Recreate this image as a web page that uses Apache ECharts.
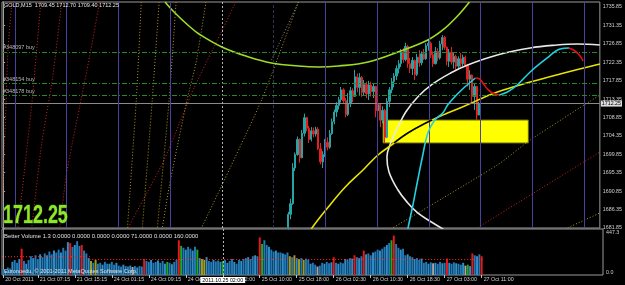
<!DOCTYPE html>
<html>
<head>
<meta charset="utf-8">
<script src="https://cdn.jsdelivr.net/npm/echarts@6/dist/echarts.min.js"></script>
<style>
html, body { margin: 0; padding: 0; background: #000; }
#chart { width: 625px; height: 285px; }
</style>
</head>
<body>
<div id="chart"></div>
<script>
var barCount = 260;
var tickIndex = [0, 15, 31, 47, 63, 79, 95, 111, 127, 143, 159, 175, 191, 207];
var tickText = ['20 Oct 2011', '21 Oct 07:15', '21 Oct 15:15', '24 Oct 01:15', '24 Oct 09:15', '24 Oct 17:15',
	'25 Oct 02:00', '25 Oct 10:00', '25 Oct 18:00', '26 Oct 02:30', '26 Oct 10:30', '26 Oct 18:30', '27 Oct 03:00', '27 Oct 11:00'];
var priceMin = 1681.85, priceMax = 1737.07, priceStep = 4.5;
var volMax = 447.3;
var header = 'GOLD,M15  1709.45 1712.70 1709.40 1712.25';
var volHeader = 'Better Volume 1.3 0.0000 0.0000 0.0000 0.0000 71.0000 0.0000 160.0000';
var copyright = 'Euronoedu, \u00a9 2001-2011 MetaQuotes Software Corp.';
var bidPrice = 1712.25;
var crossIdx = 95;
var crossText = '2011.10.25 02:00';

// candles: [open, close, low, high], first one at bar candleStart
var candleStart = 124;
var candles = [
	[1682.0,1685.2,1681.5,1685.8],[1685.2,1687.8,1684.0,1689.0],[1687.8,1696.5,1687.5,1697.7],[1696.5,1699.8,1695.8,1700.3],
	[1699.8,1703.5,1699.5,1704.2],[1703.5,1699.0,1697.8,1703.8],[1699.0,1705.0,1698.9,1705.8],[1705.0,1708.8,1704.2,1709.8],
	[1708.8,1706.2,1705.5,1709.0],[1706.2,1703.5,1702.6,1706.8],[1703.5,1705.6,1703.0,1706.5],[1705.6,1704.8,1704.0,1706.4],
	[1704.8,1706.0,1704.2,1706.6],[1706.0,1701.2,1700.9,1706.5],[1701.2,1698.0,1697.4,1702.6],[1698.0,1699.8,1696.5,1700.6],
	[1699.8,1702.8,1699.2,1703.6],[1702.8,1701.6,1700.8,1704.0],[1701.6,1704.9,1701.2,1705.8],[1704.9,1707.8,1704.6,1708.6],
	[1707.8,1710.2,1707.2,1710.8],[1710.2,1711.8,1709.0,1712.6],[1711.8,1713.2,1710.8,1713.9],[1713.2,1715.6,1712.5,1716.3],
	[1715.6,1713.0,1712.4,1716.0],[1713.0,1709.6,1708.9,1713.6],[1709.6,1712.2,1709.2,1714.8],[1712.2,1715.4,1711.4,1716.3],
	[1715.4,1714.0,1712.6,1716.0],[1714.0,1718.8,1713.9,1720.5],[1718.8,1716.2,1715.0,1719.6],[1716.2,1718.6,1714.2,1719.7],
	[1718.6,1715.0,1713.9,1719.0],[1715.0,1716.9,1714.2,1718.0],[1716.9,1714.6,1713.6,1717.6],[1714.6,1716.8,1713.1,1717.8],
	[1716.8,1715.2,1714.0,1717.6],[1715.2,1716.4,1713.6,1717.2],[1716.4,1710.5,1708.9,1716.6],[1710.5,1712.0,1709.2,1712.4],
	[1712.0,1708.2,1706.5,1712.2],[1708.2,1710.6,1707.4,1711.6],[1710.6,1704.0,1702.6,1711.0],[1704.0,1712.8,1703.8,1713.6],
	[1712.8,1715.6,1711.4,1716.3],[1715.6,1717.6,1714.8,1718.5],[1717.6,1719.0,1716.2,1719.7],[1719.0,1720.8,1718.0,1721.6],
	[1720.8,1722.0,1719.6,1722.9],[1722.0,1724.8,1721.2,1725.6],[1724.8,1723.0,1722.2,1725.8],[1723.0,1726.2,1722.6,1727.1],
	[1726.2,1722.0,1721.0,1726.6],[1722.0,1720.8,1719.7,1723.4],[1720.8,1722.8,1719.2,1723.6],[1722.8,1719.4,1718.0,1723.0],
	[1719.4,1723.6,1719.0,1724.4],[1723.6,1722.2,1721.2,1725.3],[1722.2,1724.4,1721.6,1725.0],[1724.4,1723.2,1722.9,1725.6],
	[1723.2,1726.4,1722.9,1727.0],[1726.4,1727.0,1725.2,1727.8],[1727.0,1724.2,1723.4,1727.4],[1724.2,1722.0,1721.2,1725.0],
	[1722.0,1725.0,1721.8,1726.1],[1725.0,1723.4,1722.6,1725.8],[1723.4,1726.8,1723.0,1727.6],[1726.8,1728.4,1725.3,1729.0],
	[1728.4,1726.0,1725.4,1728.8],[1726.0,1722.6,1721.6,1726.2],[1722.6,1724.8,1721.2,1725.6],[1724.8,1722.4,1721.8,1726.1],
	[1722.4,1723.8,1720.8,1724.6],[1723.8,1721.4,1720.5,1724.2],[1721.4,1723.2,1720.9,1723.8],[1723.2,1722.0,1721.2,1724.6],
	[1722.0,1723.6,1721.4,1724.2],[1723.6,1721.6,1721.2,1724.0],[1721.6,1718.2,1716.4,1721.8],[1718.2,1719.2,1715.6,1720.4],
	[1719.2,1714.0,1712.2,1719.4],[1714.0,1716.4,1710.7,1717.2],[1716.4,1709.4,1708.2,1716.6],[1709.45,1712.25,1709.4,1712.7]
];

var volume = [
	60, 50, 80, 70, 140, 160, 130, 170, 280, 150, 120, 160, 200, 180, 210, 170, 220, 190, 230, 210,
	250, 220, 260, 240, 270, 240, 290, 260, 350, 340, 300, 320, 360, 310, 320, 260, 230, 180, 150, 130,
	160, 120, 130, 110, 140, 120, 120, 140, 110, 130, 100, 90, 110, 95, 90, 100, 85, 95, 80, 95,
	90, 170, 150, 140, 160, 130, 140, 155, 130, 150, 120, 140, 130, 115, 140, 160, 370, 310, 290, 270,
	300, 280, 260, 300, 270, 180, 170, 160, 190, 150, 140, 160, 145, 155, 140, 150, 160, 130, 150, 170,
	140, 120, 160, 150, 170, 180, 190, 170, 200, 210, 200, 400, 330, 370, 320, 300, 270, 250, 260, 240,
	240, 230, 220, 240, 200, 190, 210, 180, 170, 180, 160, 175, 165, 120, 130, 110, 90, 100, 130, 120,
	140, 125, 135, 190, 130, 120, 135, 125, 170, 160, 180, 175, 210, 190, 180, 200, 260, 220, 230, 210,
	240, 250, 270, 260, 280, 300, 320, 340, 370, 420, 330, 290, 270, 280, 210, 220, 200, 190, 170, 180,
	160, 175, 130, 140, 120, 135, 125, 130, 120, 140, 125, 130, 175, 130, 120, 135, 125, 120, 110, 130,
	100, 110, 95, 230, 210, 200, 220, 200
];
var climaxBars = [8, 29, 34, 61, 76, 111, 143, 152, 156, 169, 192, 203, 207];
var churnBars = [71, 77, 84, 95, 112, 168, 201];
var lowBars = [38, 40, 86, 87, 124, 126, 128, 130];
var quietBars = [56, 136, 186, 200];
var volAvg = [[-0.5, 195], [37.5, 195], [37.5, 165], [207.5, 165]];

var buyTickets = ['#348097 buy', '#348154 buy', '#348178 buy'];
var buyPrices = [1724.86, 1717.28, 1714.35];
var separators = [5.1, 27.6, 50.1, 72.6, 140.1, 162.6, 185.1, 207.6, 230.1, 252.6];
var dimSeparator = 117.6;
var crossLine = 95.1;
var zoneFrom = [165.2, 1708.24], zoneTo = [228.4, 1702.62];

var greenArc = [[70.4,1737.07],[74.3,1734.63],[80.8,1731.21],[85.2,1729.25],[95.1,1726.08],[106.8,1723.63],[116.7,1722.17],
	[128.4,1721.43],[137.1,1721.19],[145.7,1721.43],[158.7,1722.41],[171.7,1724.85],[184.7,1727.79],[191.2,1730.23],[197.6,1733.65],[202.8,1737.07]];
var whiteArc = [[259.5,1726.56],[249.6,1726.81],[240.9,1726.56],[229.2,1725.83],[214.9,1724.12],[202.0,1721.68],[194.6,1719.72],
	[186.8,1717.04],[180.3,1713.86],[175.1,1710.19],[171.7,1706.53],[168.7,1702.86],[166.9,1699.2],[167.8,1695.53],[171.7,1691.14],
	[176.0,1687.96],[180.3,1685.52],[185.5,1683.56],[191.2,1681.61],[196.0,1679.8]];
var yellowArc = [[132.5,1679.8],[134.0,1681.61],[141.4,1686.98],[148.8,1691.87],[156.5,1696.02],[163.0,1699.69],[169.5,1702.37],[176.0,1705.06],
	[184.7,1707.75],[193.3,1709.95],[200.7,1711.66],[214.9,1715.08],[229.2,1717.52],[243.9,1719.72],[259.5,1721.92]];
var yellowInZone = [[170.0,1702.62],[176.0,1705.06],[184.7,1707.75],[186.6,1708.24]];
var maUp1 = [[175.6,1679.8],[176.0,1681.61],[178.2,1687.47],[180.3,1693.58],[182.5,1699.69],[184.7,1705.06],[187.7,1708.24],[191.2,1709.95],
	[193.3,1711.9],[196.3,1713.86],[199.8,1715.81],[203.3,1717.52],[205.4,1718.5]];
var maDown1 = [[205.4,1718.5],[207.2,1718.26],[208.9,1717.04],[210.6,1715.81],[212.8,1714.84],[215.8,1714.35]];
var maUp2 = [[215.8,1714.35],[219.3,1715.08],[223.6,1716.79],[229.2,1719.97],[236.6,1723.39],[242.2,1725.59],[246.1,1725.83]];
var maDown2 = [[246.1,1725.83],[248.7,1725.1],[250.9,1723.88],[252.2,1722.66]];

var redFan = [
	[[3.83,1737.07],[2.1,1725.34],[0.8,1705.06],[-0.5,1688.69]],
	[[16.37,1737.07],[12.91,1714.84],[9.45,1696.76],[6.42,1682.1]],
	[[25.46,1737.07],[21.56,1718.75],[16.8,1702.62],[12.48,1682.1]],
	[[41.9,1737.07],[37.57,1723.63],[33.24,1711.42],[27.62,1695.29],[24.59,1682.1]],
	[[101.17,1737.07],[94.68,1729.5],[82.99,1716.06],[70.02,1698.47],[59.2,1686.98],[54.0,1681.61]],
	[[205.4,1681.61],[259.5,1700.42]]
];
var yellowFan = [
	[[60.07,1737.07],[57.9,1713.13],[54.0,1681.61]],
	[[67.85,1737.07],[64.83,1713.13],[60.5,1681.61]],
	[[75.21,1737.07],[72.18,1713.13],[67.0,1681.61]],
	[[88.19,1737.07],[83.86,1722.17],[79.97,1713.13],[72.18,1691.87],[69.15,1681.61]],
	[[128.4,1737.07],[112.4,1713.13],[86.03,1681.61]],
	[[168.65,1681.61],[214.94,1697.24],[229.22,1703.35],[259.5,1714.35]],
	[[244.4,1681.61],[259.5,1685.52]]
];
var grayFan = [
	[[128.4,1737.07],[116.3,1722.41]]
];

var smallFont = 'Liberation Sans';
var cats = [];
for (var i = 0; i < barCount; i++) cats.push(String(i));

var candleData = [];
for (var i = 0; i < barCount; i++) {
	var k = i - candleStart;
	candleData.push(k >= 0 && k < candles.length ? candles[k] : '-');
}

var volData = volume.map(function(v, i) {
	var c = '#2378b6';
	if (climaxBars.indexOf(i) >= 0) c = '#e81818';
	else if (churnBars.indexOf(i) >= 0) c = '#1fa82a';
	else if (lowBars.indexOf(i) >= 0) c = '#a69c1c';
	else if (quietBars.indexOf(i) >= 0) c = '#a8a8a8';
	else if (i % 3 == 1) c = '#2f8fc8';
	return { value: v, itemStyle: { color: c } };
});

function isTick(index) {
	return tickIndex.indexOf(Number(index)) >= 0;
}

function overlay(data, color, width, type, z, smooth) {
	return {
		type: 'line',
		xAxisIndex: 1,
		yAxisIndex: 0,
		data: data,
		symbol: 'none',
		smooth: smooth,
		silent: true,
		z: z,
		lineStyle: { color: color, width: width, type: type }
	};
}

var markLines = [];
separators.forEach(function(x) {
	markLines.push({ xAxis: x, lineStyle: { color: '#4c3e9c', width: 1, type: 'solid' } });
});
markLines.push({ xAxis: dimSeparator, lineStyle: { color: '#34344e', width: 1, type: [3, 2] } });
markLines.push({ xAxis: crossLine, lineStyle: { color: '#b4b4b4', width: 1, type: [2, 2] } });
buyPrices.forEach(function(p, i) {
	markLines.push({
		yAxis: p,
		lineStyle: { color: '#2a862a', width: 1, type: [5, 2, 1, 2] },
		label: {
			show: true, position: 'insideStartTop', formatter: buyTickets[i], distance: 1,
			color: '#b8b8b8', fontSize: 5.5, fontFamily: smallFont
		}
	});
});

var series = [];

series.push({
	type: 'candlestick',
	xAxisIndex: 0,
	yAxisIndex: 0,
	data: candleData,
	barWidth: 1.8,
	z: 2,
	itemStyle: {
		color: '#27a3a3', color0: '#e42020',
		borderColor: '#27a3a3', borderColor0: '#e42020', borderWidth: 1
	},
	markLine: {
		symbol: ['none', 'none'],
		silent: true,
		animation: false,
		data: [{
			yAxis: bidPrice,
			lineStyle: { color: '#8a8a8a', width: 1, type: 'solid' },
			label: {
				show: true, position: 'end', distance: 1, formatter: bidPrice.toFixed(2),
				backgroundColor: '#dcdcdc', color: '#000', fontSize: 5.3, fontFamily: smallFont, padding: [1, 1, 0, 1]
			}
		}]
	}
});

var arcSeries = overlay(greenArc, '#9fdc26', 1.6, 'solid', 4, 0.4);
arcSeries.markLine = {
	symbol: ['none', 'none'],
	silent: true,
	animation: false,
	label: { show: false },
	data: markLines
};
series.push(arcSeries);

redFan.forEach(function(d) { series.push(overlay(d, '#d02420', 1, [1, 2], 3, 0.2)); });
yellowFan.forEach(function(d) { series.push(overlay(d, '#ad9a1a', 1, [1, 2], 3, 0.2)); });
grayFan.forEach(function(d) { series.push(overlay(d, '#8a8a8a', 1, [1, 2], 3, 0)); });

series.push(overlay(whiteArc, '#e8e8e8', 1.6, 'solid', 4, 0.4));
series.push(overlay(yellowArc, '#e8e400', 1.6, 'solid', 4, 0.4));

var zoneSeries = overlay(yellowInZone, '#000000', 1.6, 'solid', 5, 0.4);
zoneSeries.markArea = {
	silent: true,
	itemStyle: { color: '#ffff00', borderColor: '#6a6a00', borderWidth: 1 },
	data: [[{ coord: zoneFrom }, { coord: zoneTo }]]
};
series.push(zoneSeries);

series.push(overlay(maUp1, '#22d0e2', 1.6, 'solid', 6, 0.4));
series.push(overlay(maDown1, '#e01010', 1.6, 'solid', 6, 0.4));
series.push(overlay(maUp2, '#22d0e2', 1.6, 'solid', 6, 0.4));
series.push(overlay(maDown2, '#e01010', 1.6, 'solid', 6, 0.4));

series.push({
	type: 'bar',
	xAxisIndex: 2,
	yAxisIndex: 1,
	data: volData,
	barCategoryGap: '15%',
	z: 2,
	markLine: {
		symbol: ['none', 'none'],
		silent: true,
		animation: false,
		data: [{
			xAxis: crossIdx,
			lineStyle: { color: '#b4b4b4', width: 1, type: [2, 2] },
			label: {
				show: true, position: 'start', distance: 2, formatter: crossText,
				backgroundColor: '#ffffff', color: '#000', fontSize: 5.3, fontFamily: smallFont, padding: [1, 2, 0, 2]
			}
		}]
	}
});

series.push({
	type: 'line',
	xAxisIndex: 3,
	yAxisIndex: 1,
	data: volAvg,
	symbol: 'none',
	silent: true,
	z: 3,
	lineStyle: { color: '#ff2a2a', width: 1, type: [1, 2] }
});

var myChart = echarts.init(document.getElementById('chart'));

var option = {
	backgroundColor: '#000000',
	animation: false,
	grid: [
		{ left: 2, top: 2, width: 601, height: 226, show: true, borderColor: '#9a9a9a', borderWidth: 1 },
		{ left: 2, top: 229, width: 601, height: 46, show: true, borderColor: '#9a9a9a', borderWidth: 1 }
	],
	xAxis: [
		{ type: 'category', gridIndex: 0, data: cats, show: false },
		{ type: 'value', gridIndex: 0, min: -0.5, max: barCount - 0.5, show: false },
		{
			type: 'category', gridIndex: 1, data: cats,
			axisLine: { show: false },
			axisTick: { show: true, alignWithLabel: true, interval: isTick, length: 3, lineStyle: { color: '#c0c0c0' } },
			axisLabel: {
				interval: isTick,
				formatter: function(v) { return tickText[tickIndex.indexOf(Number(v))] || ''; },
				align: 'left', margin: 2, padding: [0, 0, 0, 2],
				color: '#d0d0d0', fontSize: 5.3, fontFamily: smallFont
			},
			splitLine: { show: false }
		},
		{ type: 'value', gridIndex: 1, min: -0.5, max: barCount - 0.5, show: false }
	],
	yAxis: [
		{
			type: 'value', gridIndex: 0, position: 'right',
			min: priceMin, max: priceMax, interval: priceStep,
			axisLine: { show: true, lineStyle: { color: '#a0a0a0' } },
			axisTick: { show: true, length: 2, lineStyle: { color: '#a0a0a0' } },
			splitLine: { show: false },
			axisLabel: {
				showMaxLabel: false, margin: 3,
				formatter: function(v) { return v.toFixed(2); },
				color: '#d0d0d0', fontSize: 5.3, fontFamily: smallFont
			}
		},
		{
			type: 'value', gridIndex: 1, position: 'right',
			min: 0, max: volMax * 46 / 42, interval: volMax,
			axisLine: { show: true, lineStyle: { color: '#a0a0a0' } },
			axisTick: { show: false },
			splitLine: { show: false },
			axisLabel: {
				showMaxLabel: false, margin: 3,
				formatter: function(v) { return v > 0 ? '{top|' + v.toFixed(1) + '}' : '{bot|' + v.toFixed(1) + '}'; },
				rich: {
					top: { color: '#d0d0d0', fontSize: 5.3, fontFamily: smallFont },
					bot: { color: '#d0d0d0', fontSize: 5.3, fontFamily: smallFont, padding: [0, 0, 5, 0] }
				}
			}
		}
	],
	graphic: [
		{ type: 'text', x: 4, y: 2, z: 20, style: { text: header, fill: '#e6e6e6', fontSize: 5.5, fontFamily: smallFont, verticalAlign: 'top' } },
		{ type: 'text', x: 4, y: 233, z: 20, style: { text: volHeader, fill: '#e0e0e0', fontSize: 5.9, fontFamily: smallFont, verticalAlign: 'top' } },
		{ type: 'text', x: 4, y: 268, z: 20, style: { text: copyright, fill: '#e0e0e0', fontSize: 5.6, fontFamily: smallFont, verticalAlign: 'top' } },
		{
			type: 'text', x: 3, y: 203, scaleX: 0.69, z: 20,
			style: {
				text: bidPrice.toFixed(2), fill: '#8fe52a', stroke: '#2f5f10', lineWidth: 1,
				fontSize: 26, fontWeight: 'bold', fontFamily: smallFont, verticalAlign: 'top'
			}
		}
	],
	series: series
};

myChart.setOption(option);
</script>
</body>
</html>
